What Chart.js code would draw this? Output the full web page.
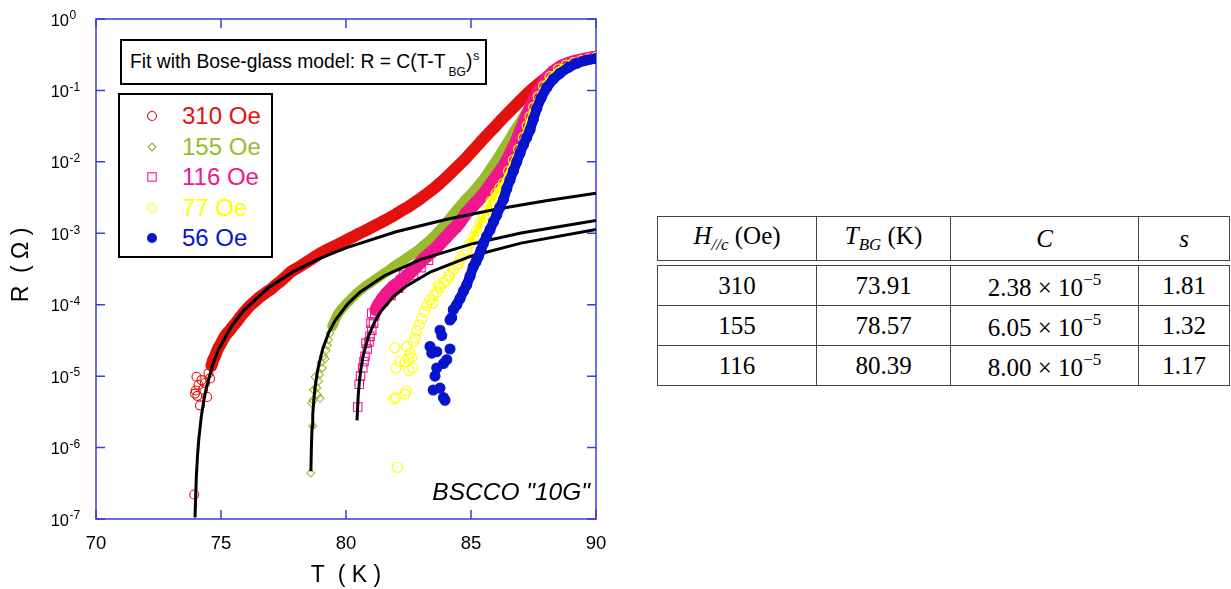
<!DOCTYPE html>
<html>
<head>
<meta charset="utf-8">
<script src="https://cdn.jsdelivr.net/npm/chart.js@4.4.0/dist/chart.umd.min.js"></script>
<style>
  body { margin: 0; background: #fff; width: 1231px; height: 589px; position: relative; overflow: hidden;
         font-family: Arial, "Liberation Sans", sans-serif; }
  #wrap { position: absolute; left: 0; top: 0; width: 620px; height: 589px; }
  .box { position: absolute; background: #fff; border: 2px solid #000; box-sizing: border-box; }
  #fitBox { left: 120px; top: 39px; width: 367px; height: 46px; font-size: 19.3px; padding-left: 8px; white-space: nowrap;
            display: flex; align-items: center; }
  #fitBox sub { font-size: 12px; position: relative; top: 8px; margin-left: 3px; vertical-align: baseline; }
  #fitBox sup { font-size: 12px; position: relative; top: -8px; vertical-align: baseline; margin-left: 1px; }
  #legend { left: 118px; top: 93px; width: 155px; height: 165px; padding-top: 6px; }
  .row { height: 30.5px; position: relative; font-size: 24px; line-height: 30px; }
  .row svg { position: absolute; left: 26px; top: 9px; }
  .row span { position: absolute; left: 62px; }
  #sample { position: absolute; right: 641px; top: 478px; font-size: 24.5px; font-style: italic; }
  #tbl { position: absolute; left: 657px; top: 216px; font-family: "Liberation Serif", "Times New Roman", serif; font-size: 25px; }
  #tbl table { border-collapse: collapse; table-layout: fixed; width: 568px; }
  #tbl td { border: 1.5px solid #444; text-align: center; padding: 0; }
  #tbl .head td { height: 43px; }
  #tbl .body { margin-top: 4px; }
  #tbl .body td { height: 39px; }
  #tbl sub { font-size: 17px; }
  #tbl sup { font-size: 17px; vertical-align: 11px; }
</style>
</head>
<body>
<div id="wrap"><canvas id="chart"></canvas></div>

<div class="box" id="fitBox"><span>Fit with Bose-glass model: R = C(T-T<sub>BG</sub>)<sup>s</sup></span></div>
<div class="box" id="legend"></div>
<div id="sample">BSCCO "10G"</div>

<div id="tbl">
  <table class="head"><tr>
    <td style="width:158px"><i>H</i><sub><i>//c</i></sub> (Oe)</td>
    <td style="width:133px"><i>T<sub>BG</sub></i> (K)</td>
    <td style="width:187px"><i>C</i></td>
    <td style="width:90px"><i>s</i></td>
  </tr></table>
  <table class="body" id="fitRows"></table>
</div>

<script>
// axis ticks
const xTicks = [70, 75, 80, 85, 90];
const yTickExps = [0, -1, -2, -3, -4, -5, -6, -7];

// field labels and fit parameters (table)
const fields = ['310 Oe', '155 Oe', '116 Oe', '77 Oe', '56 Oe'];
const fitField = ['310', '155', '116'];
const fitTbg = ['73.91', '78.57', '80.39'];
const fitC = ['2.38', '6.05', '8.00'];
const fitS = ['1.81', '1.32', '1.17'];

// measured R(T): isolated points near the transition, and the dense track above it
const scatter310 = [[73.93, 2.2e-7], [73.96, 5.7e-6], [73.99, 6.3e-6], [74.02, 9.8e-6], [74.05, 5.3e-6], [74.10, 7.5e-6],
  [74.16, 3.9e-6], [74.22, 8.8e-6], [74.28, 6.5e-6], [74.36, 8.0e-6], [74.45, 5.1e-6], [74.50, 1.1e-5], [74.56, 9.3e-6]];
const band310 = [[74.62, 1.4e-5], [74.69, 1.7e-5], [74.76, 1.9e-5], [74.83, 2.2e-5], [74.90, 2.5e-5], [74.96, 2.7e-5],
  [75.05, 3.1e-5], [75.15, 3.6e-5], [75.25, 4.0e-5], [75.36, 4.4e-5], [75.48, 5.0e-5], [75.60, 5.6e-5], [75.75, 6.6e-5],
  [75.89, 7.6e-5], [76.05, 8.8e-5], [76.20, 1.0e-4], [76.40, 1.15e-4], [76.56, 1.29e-4], [76.80, 1.48e-4], [77.00, 1.65e-4],
  [77.20, 1.9e-4], [77.40, 2.15e-4], [77.60, 2.5e-4], [77.80, 2.9e-4], [78.00, 3.2e-4], [78.20, 3.5e-4], [78.40, 3.9e-4],
  [78.60, 4.3e-4], [78.80, 4.8e-4], [79.00, 5.3e-4], [79.25, 5.9e-4], [79.50, 6.5e-4], [79.75, 7.2e-4], [80.00, 8.0e-4],
  [80.25, 8.8e-4], [80.50, 9.8e-4], [80.75, 1.08e-3], [81.00, 1.2e-3], [81.25, 1.33e-3], [81.50, 1.48e-3], [81.75, 1.65e-3],
  [82.00, 1.85e-3], [82.25, 2.1e-3], [82.50, 2.35e-3], [82.75, 2.7e-3], [83.00, 3.1e-3], [83.25, 3.6e-3], [83.50, 4.2e-3],
  [83.75, 5.0e-3], [84.00, 6.0e-3], [84.25, 7.3e-3], [84.50, 8.9e-3], [84.75, 1.08e-2], [85.00, 1.35e-2], [85.25, 1.68e-2],
  [85.50, 2.1e-2], [85.75, 2.6e-2], [86.00, 3.2e-2], [86.25, 4.0e-2], [86.50, 4.9e-2], [86.75, 6.0e-2], [87.00, 7.4e-2],
  [87.25, 9.0e-2], [87.50, 0.108], [87.75, 0.128], [88.00, 0.15], [88.25, 0.175], [88.50, 0.2], [88.75, 0.22], [89.00, 0.24],
  [89.25, 0.257], [89.50, 0.27], [89.75, 0.282], [90.00, 0.292]];

const scatter155 = [[78.59, 4.4e-7], [78.67, 2.0e-6], [78.63, 4.2e-6], [78.68, 4.6e-6], [78.70, 6.4e-6], [78.76, 9.8e-6],
  [78.83, 6.8e-6], [78.86, 5.5e-6], [78.96, 4.9e-6], [78.90, 8.5e-6], [78.93, 1.05e-5], [79.05, 1.3e-5], [79.00, 1.55e-5],
  [79.10, 1.9e-5], [79.16, 1.75e-5], [79.20, 2.3e-5], [79.25, 2.7e-5], [79.30, 3.2e-5], [79.36, 4.0e-5]];
const band155 = [[79.45, 5.0e-5], [79.55, 6.0e-5], [79.65, 7.2e-5], [79.80, 8.5e-5], [80.00, 1.02e-4], [80.20, 1.2e-4],
  [80.40, 1.42e-4], [80.60, 1.62e-4], [80.80, 1.85e-4], [81.00, 2.05e-4], [81.25, 2.35e-4], [81.50, 2.7e-4], [81.75, 3.1e-4],
  [82.00, 3.6e-4], [82.25, 4.1e-4], [82.50, 4.7e-4], [82.75, 5.4e-4], [83.00, 6.3e-4], [83.25, 7.5e-4], [83.50, 9.0e-4],
  [83.75, 1.12e-3], [84.00, 1.4e-3], [84.25, 1.8e-3], [84.50, 2.3e-3], [84.75, 2.9e-3], [85.00, 3.6e-3], [85.25, 4.5e-3],
  [85.50, 5.8e-3], [85.75, 7.8e-3], [86.00, 1.05e-2], [86.25, 1.45e-2], [86.50, 2.0e-2], [86.75, 2.8e-2], [87.00, 3.8e-2],
  [87.25, 5.2e-2], [87.50, 7.2e-2], [87.75, 0.1], [88.00, 0.13], [88.25, 0.16], [88.50, 0.19], [88.75, 0.215], [89.00, 0.235],
  [89.25, 0.252], [89.50, 0.267], [89.75, 0.28], [90.00, 0.29]];

const scatter116 = [[80.47, 3.7e-6], [80.53, 7.7e-6], [80.58, 1.0e-5], [80.67, 1.3e-5], [80.72, 1.6e-5], [80.76, 1.9e-5],
  [80.85, 2.4e-5], [80.80, 2.9e-5], [80.92, 3.0e-5], [80.96, 3.6e-5], [81.03, 4.4e-5], [81.00, 5.5e-5], [81.10, 5.5e-5],
  [81.15, 7.0e-5], [81.03, 7.6e-5], [81.50, 1.1e-4], [81.80, 1.35e-4], [82.10, 1.7e-4], [82.30, 2.6e-4], [82.70, 2.6e-4],
  [83.00, 3.3e-4], [83.30, 4.2e-4]];
const band116 = [[81.20, 8.5e-5], [81.30, 1.0e-4], [81.45, 1.2e-4], [81.60, 1.4e-4], [81.76, 1.6e-4], [81.90, 1.8e-4],
  [82.05, 1.95e-4], [82.20, 2.2e-4], [82.43, 2.5e-4], [82.60, 2.9e-4], [82.80, 3.4e-4], [83.00, 4.0e-4], [83.20, 4.7e-4],
  [83.40, 5.4e-4], [83.60, 6.2e-4], [83.80, 7.4e-4], [84.00, 8.8e-4], [84.20, 1.05e-3], [84.40, 1.22e-3], [84.60, 1.5e-3],
  [84.80, 1.9e-3], [85.00, 2.25e-3], [85.20, 2.7e-3], [85.40, 3.2e-3], [85.60, 3.9e-3], [85.80, 4.9e-3], [86.00, 6.1e-3],
  [86.20, 7.6e-3], [86.40, 9.8e-3], [86.60, 1.35e-2], [86.80, 1.9e-2], [87.00, 2.8e-2], [87.20, 4.2e-2], [87.40, 6.0e-2],
  [87.60, 8.3e-2], [87.80, 0.11], [88.00, 0.145], [88.30, 0.185], [88.60, 0.218], [88.90, 0.24], [89.20, 0.258],
  [89.50, 0.272], [89.75, 0.283], [90.00, 0.293]];

const scatter77 = [[82.05, 5.3e-7], [81.92, 4.8e-6], [82.00, 5.0e-6], [82.36, 5.6e-6], [82.42, 6.2e-6], [81.96, 2.5e-5],
  [82.00, 1.3e-5], [82.16, 1.6e-5], [82.36, 1.6e-5], [82.53, 1.2e-5], [82.67, 1.3e-5], [82.50, 1.75e-5], [82.62, 1.8e-5],
  [82.43, 2.6e-5], [82.56, 2.1e-5], [82.69, 3.0e-5], [82.76, 3.4e-5], [82.83, 4.3e-5], [82.93, 5.2e-5], [83.03, 6.4e-5],
  [83.13, 8.0e-5], [83.23, 9.7e-5], [83.36, 1.17e-4], [83.45, 1.05e-4], [83.50, 1.35e-4], [83.63, 1.5e-4], [83.70, 1.9e-4],
  [83.76, 1.75e-4], [83.90, 2.0e-4], [84.03, 2.2e-4], [84.10, 2.5e-4], [84.15, 2.6e-4], [84.29, 3.1e-4], [84.42, 3.6e-4],
  [84.50, 3.7e-4], [84.56, 4.3e-4], [84.70, 5.0e-4], [84.83, 5.8e-4]];
const band77 = [[84.96, 7.2e-4], [85.09, 8.9e-4], [85.22, 1.1e-3], [85.36, 1.38e-3], [85.50, 1.7e-3], [85.63, 2.1e-3],
  [85.80, 2.8e-3], [86.00, 3.6e-3], [86.15, 4.3e-3], [86.29, 5.0e-3], [86.50, 7.4e-3], [86.69, 1.06e-2], [86.90, 1.5e-2],
  [87.09, 2.2e-2], [87.25, 3.2e-2], [87.36, 4.3e-2], [87.50, 5.8e-2], [87.69, 8.2e-2], [87.90, 0.115], [88.16, 0.156],
  [88.50, 0.2], [88.80, 0.226], [89.10, 0.245], [89.40, 0.262], [89.70, 0.278], [90.00, 0.29]];

const scatter56 = [[83.96, 4.6e-6], [83.49, 6.4e-6], [83.76, 6.8e-6], [83.90, 5.0e-6], [83.56, 1.0e-5], [83.63, 1.3e-5],
  [83.90, 1.5e-5], [84.03, 1.7e-5], [83.43, 2.1e-5], [83.36, 2.6e-5], [83.63, 2.2e-5], [84.16, 2.4e-5], [83.76, 4.4e-5],
  [83.83, 3.7e-5], [84.16, 6.1e-5], [84.23, 6.6e-5]];
const band56 = [[84.29, 8.5e-5], [84.43, 1.0e-4], [84.56, 1.22e-4], [84.70, 1.55e-4], [84.83, 1.9e-4], [84.96, 2.5e-4],
  [85.09, 3.4e-4], [85.20, 4.0e-4], [85.29, 4.7e-4], [85.40, 5.8e-4], [85.49, 7.2e-4], [85.62, 9.0e-4], [85.76, 1.12e-3],
  [85.90, 1.45e-3], [86.03, 1.8e-3], [86.15, 2.3e-3], [86.30, 3.0e-3], [86.43, 4.2e-3], [86.56, 5.6e-3], [86.70, 7.5e-3],
  [86.83, 1.0e-2], [86.96, 1.32e-2], [87.10, 1.75e-2], [87.23, 2.2e-2], [87.36, 2.8e-2], [87.50, 4.0e-2], [87.63, 5.6e-2],
  [87.80, 7.8e-2], [88.03, 0.11], [88.30, 0.145], [88.56, 0.174], [88.90, 0.21], [89.23, 0.24], [89.60, 0.265], [90.00, 0.28]];

// Bose-glass fit curves
const fit310 = [[73.96, 1.05e-7], [74.01, 3.69e-7], [74.06, 7.68e-7], [74.11, 1.29e-6], [74.21, 2.69e-6], [74.31, 4.53e-6],
  [74.41, 6.79e-6], [74.66, 1.41e-5], [74.91, 2.38e-5], [75.41, 4.96e-5], [75.91, 8.35e-5], [76.91, 1.74e-4], [77.91, 2.93e-4],
  [78.91, 4.38e-4], [80, 6.26e-4], [82, 1.05e-3], [84, 1.56e-3], [86, 2.17e-3], [88, 2.86e-3], [90, 3.63e-3]];
const fit155 = [[78.595, 4.65e-7], [78.62, 1.16e-6], [78.645, 1.98e-6], [78.67, 2.90e-6], [78.72, 4.95e-6], [78.77, 7.23e-6],
  [78.87, 1.24e-5], [79.07, 2.42e-5], [79.32, 4.14e-5], [79.57, 6.05e-5], [80.07, 1.03e-4], [80.57, 1.51e-4], [81.57, 2.58e-4],
  [83, 4.32e-4], [85, 7.06e-4], [87, 1.01e-3], [90, 1.51e-3]];
const fit116 = [[80.44, 2.40e-6], [80.49, 5.41e-6], [80.54, 8.70e-6], [80.59, 1.22e-5], [80.69, 1.96e-5], [80.89, 3.56e-5],
  [81.14, 5.71e-5], [81.39, 8.0e-5], [81.89, 1.29e-4], [82.39, 1.80e-4], [83.39, 2.89e-4], [85, 4.78e-4], [87, 7.29e-4],
  [90, 1.13e-3]];

const axisBlue = '#3b3bdc';
const colors = ['#e3120f', '#99bb2e', '#f0188c', '#ffff00', '#0714cc'];

const toXY = arr => arr.map(p => ({ x: p[0], y: p[1] }));

function markers(pts, color, style, radius, filled, order) {
  return {
    data: toXY(pts), showLine: false, order: order,
    pointStyle: style, pointRadius: radius, pointHoverRadius: radius,
    pointBorderWidth: 1.1, borderColor: color,
    pointBackgroundColor: filled ? color : 'rgba(0,0,0,0)'
  };
}
function track(pts, color, width, order) {
  return {
    data: toXY(pts), showLine: true, order: order, pointRadius: 0,
    borderColor: color, borderWidth: width, borderCapStyle: 'round', borderJoinStyle: 'round'
  };
}
function fitLine(pts) {
  return { data: toXY(pts), showLine: true, order: 2, pointRadius: 0, borderColor: '#000', borderWidth: 3 };
}

const datasets = [
  markers(scatter56.concat(band56), colors[4], 'circle', 5, true, 0),
  track(band56, colors[4], 10, 1),
  fitLine(fit310), fitLine(fit155), fitLine(fit116),
  markers(scatter77.concat(band77), colors[3], 'circle', 5, false, 3),
  track(band77, colors[3], 5, 4),
  markers(scatter116.concat(band116), colors[2], 'rect', 6, false, 5),
  track(band116, colors[2], 13, 6),
  markers(scatter155.concat(band155), colors[1], 'rectRot', 4, false, 7),
  track(band155, colors[1], 10, 8),
  markers(scatter310.concat(band310), colors[0], 'circle', 4.5, false, 9),
  track(band310, colors[0], 12, 10)
];

// frame with inward ticks on all four sides, plus tick labels and axis titles
const frame = {
  id: 'frame',
  beforeDatasetsDraw(chart) {
    const { ctx, chartArea: a, scales: { x, y } } = chart;
    ctx.save();
    ctx.strokeStyle = axisBlue;
    ctx.lineWidth = 1.5;
    ctx.strokeRect(a.left, a.top, a.right - a.left, a.bottom - a.top);
    ctx.beginPath();
    x.ticks.forEach(t => {
      const px = x.getPixelForValue(t.value);
      ctx.moveTo(px, a.bottom); ctx.lineTo(px, a.bottom - 9);
      ctx.moveTo(px, a.top); ctx.lineTo(px, a.top + 9);
    });
    y.ticks.forEach(t => {
      const py = y.getPixelForValue(t.value);
      ctx.moveTo(a.left, py); ctx.lineTo(a.left + 9, py);
      ctx.moveTo(a.right, py); ctx.lineTo(a.right - 9, py);
    });
    ctx.stroke();
    ctx.restore();
  },
  afterDraw(chart) {
    const { ctx, chartArea: a, scales: { x, y } } = chart;
    ctx.save();
    ctx.fillStyle = '#000';
    ctx.textBaseline = 'middle';
    ctx.font = '18.5px Arial, "Liberation Sans", sans-serif';
    ctx.textAlign = 'center';
    x.ticks.forEach(t => ctx.fillText(String(t.value), x.getPixelForValue(t.value), a.bottom + 25));
    y.ticks.forEach((t, i) => {
      const py = y.getPixelForValue(t.value);
      ctx.font = '16.5px Arial, "Liberation Sans", sans-serif';
      ctx.textAlign = 'right';
      ctx.fillText('10', 69, py + 2);
      ctx.font = '12px Arial, "Liberation Sans", sans-serif';
      ctx.textAlign = 'left';
      ctx.fillText(String(yTickExps[i]), 69.5, py - 3);
    });
    ctx.font = '23px Arial, "Liberation Sans", sans-serif';
    ctx.textAlign = 'center';
    ctx.fillText('T  ( K )', (a.left + a.right) / 2, 576);
    ctx.translate(22, (a.top + a.bottom) / 2 - 4);
    ctx.rotate(-Math.PI / 2);
    ctx.fillText('R  ( Ω )', 0, 0);
    ctx.restore();
  }
};

new Chart(document.getElementById('chart'), {
  type: 'scatter',
  data: { datasets: datasets },
  options: {
    responsive: true,
    maintainAspectRatio: false,
    animation: false,
    layout: { padding: { top: 19, right: 24, left: 0, bottom: 0 } },
    plugins: { legend: { display: false }, tooltip: { enabled: false }, title: { display: false } },
    scales: {
      x: {
        type: 'linear', min: 70, max: 90,
        afterBuildTicks: s => { s.ticks = xTicks.map(v => ({ value: v })); },
        afterFit: s => { s.height = 70; },
        ticks: { display: false }, grid: { display: false }, border: { display: false }
      },
      y: {
        type: 'logarithmic', min: 1e-7, max: 1,
        afterBuildTicks: s => { s.ticks = yTickExps.map(e => ({ value: Math.pow(10, e) })); },
        afterFit: s => { s.width = 96; },
        ticks: { display: false }, grid: { display: false }, border: { display: false }
      }
    }
  },
  plugins: [frame]
});

// legend box
const legendShapes = [
  '<circle cx="6" cy="6" r="4.5" fill="none" stroke="' + colors[0] + '" stroke-width="1.1"/>',
  '<path d="M6 2 L10 6 L6 10 L2 6 Z" fill="none" stroke="' + colors[1] + '" stroke-width="1.1"/>',
  '<rect x="1.8" y="1.8" width="8.4" height="8.4" fill="none" stroke="' + colors[2] + '" stroke-width="1.1"/>',
  '<circle cx="6" cy="6" r="4.5" fill="none" stroke="' + colors[3] + '" stroke-width="1.1"/>',
  '<circle cx="6" cy="6" r="5" fill="' + colors[4] + '"/>'
];
document.getElementById('legend').innerHTML = fields.map((f, i) =>
  '<div class="row"><svg width="12" height="12">' + legendShapes[i] + '</svg>' +
  '<span style="color:' + colors[i] + '">' + f + '</span></div>').join('');

// fit parameter table
document.getElementById('fitRows').innerHTML = fitField.map((f, i) =>
  '<tr><td style="width:158px">' + f + '</td><td style="width:133px">' + fitTbg[i] + '</td>' +
  '<td style="width:187px">' + fitC[i] + ' × 10<sup>−5</sup></td><td style="width:90px">' + fitS[i] + '</td></tr>').join('');
</script>
</body>
</html>
